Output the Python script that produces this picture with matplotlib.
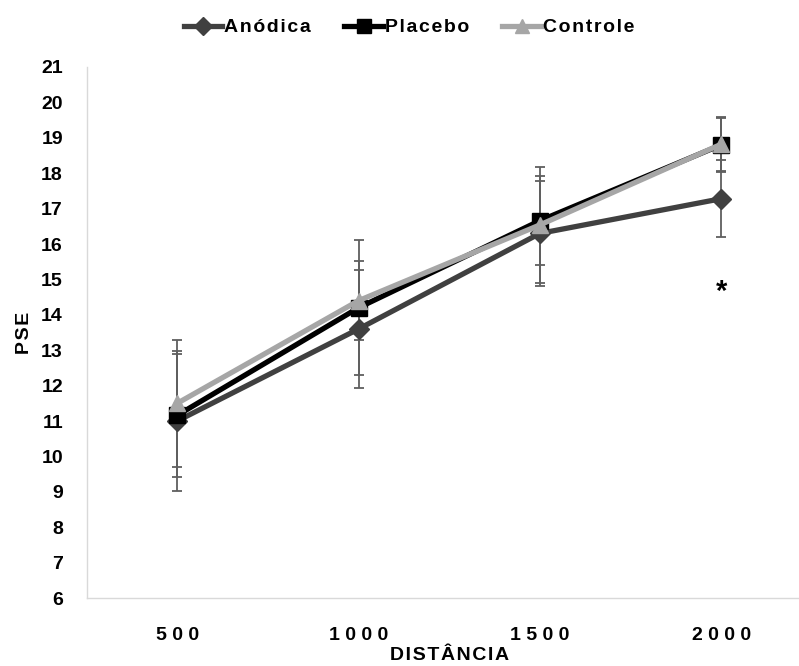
import matplotlib
matplotlib.use("Agg")
import matplotlib.pyplot as plt
import numpy as np

plt.rcParams['font.family'] = ['Liberation Sans', 'DejaVu Sans']
plt.rcParams['font.weight'] = 'bold'

distances = ["500", "1000", "1500", "2000"]
anodica = [11.0, 13.6, 16.3, 17.28]
anodica_sd = [1.98, 1.66, 1.49, 1.08]
placebo = [11.16, 14.2, 16.66, 18.8]
placebo_sd = [1.74, 1.9, 1.26, 0.75]
controle = [11.5, 14.4, 16.54, 18.82]
controle_sd = [1.8, 1.12, 1.64, 0.78]
series_names = ["Anódica", "Placebo", "Controle"]
y_ticks = list(range(6, 22))
significance_idx = 3
significance_y = 14.65


def spaced(s, sep="\u200a"):
    """Open up the letter spacing of a label."""
    return sep.join(s)


fig = plt.figure(figsize=(7.99, 6.66), dpi=100)
ax = fig.add_axes([0.1083, 0.1021, 0.908, 0.7973])

x = np.arange(len(distances))
styles = [
    dict(color="#404040", marker="D", ms=10.5),
    dict(color="#000000", marker="s", ms=11.5),
    dict(color="#a6a6a6", marker="^", ms=12),
]
data = [(anodica, anodica_sd), (placebo, placebo_sd), (controle, controle_sd)]

for vals, sd in data:
    ax.errorbar(x, vals, yerr=sd, fmt="none", ecolor="#5f5f5f",
                elinewidth=1.3, capsize=3.6, capthick=1.3, zorder=1)
for i, ((vals, sd), st, name) in enumerate(zip(data, styles, series_names)):
    ax.plot(x, vals, color=st["color"], lw=3.8, marker=st["marker"],
            ms=st["ms"], mfc=st["color"], mec=st["color"],
            label=spaced(name), zorder=3 + i, solid_joinstyle="round")

ax.text(x[significance_idx], significance_y, "*", ha="center", va="center",
        fontsize=21, fontweight="bold", color="black")

ax.set_xlim(-0.5, 3.5)
ax.set_ylim(6, 21)
ax.set_xticks(x)
ax.set_xticklabels([spaced(d, " ") for d in distances])
ax.set_yticks(y_ticks)
ax.tick_params(axis="both", length=0, labelsize=14)
ax.tick_params(axis="y", pad=17)
ax.tick_params(axis="x", pad=21)
for lab in ax.get_xticklabels() + ax.get_yticklabels():
    lab.set_fontweight("bold")

for s in ["top", "right"]:
    ax.spines[s].set_visible(False)
for s in ["left", "bottom"]:
    ax.spines[s].set_color("#d9d9d9")
    ax.spines[s].set_linewidth(1.0)

ax.set_xlabel(spaced("DISTÂNCIA"), fontsize=14, fontweight="bold", labelpad=2)
ax.set_ylabel(spaced("PSE"), fontsize=14, fontweight="bold", labelpad=6)

fig.legend(loc="upper center", bbox_to_anchor=(0.512, 0.998), ncol=3,
           frameon=False, fontsize=14, handlelength=2.0,
           handletextpad=0.1, columnspacing=1.7, markerscale=0.85)

fig.savefig("out.png", dpi=100)
